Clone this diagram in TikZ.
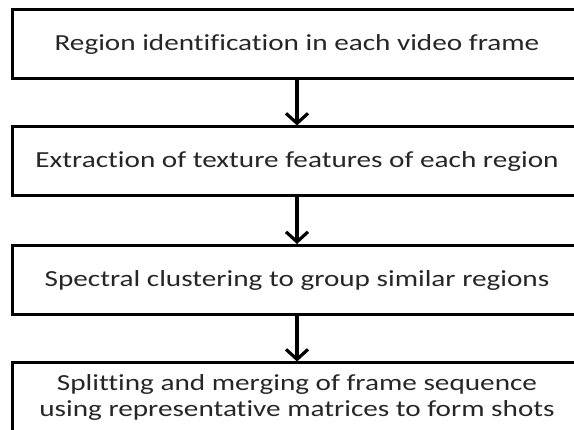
\documentclass[tikz,border=0pt]{standalone}
\usepackage{fontspec}
\setmainfont{Carlito}[Ligatures={NoCommon}]
\usetikzlibrary{arrows.meta}
\newcommand{\widetext}[1]{\scalebox{1.27}[1]{#1}}
\tikzset{
  stage/.style={draw, line width=3pt, minimum width=570pt, minimum height=69pt,
    align=center, inner sep=0pt, font=\fontsize{23}{26}\selectfont, text=black!85},
  flow/.style={line width=3.2pt, -{Straight Barb[length=10pt,width=22pt,line width=3.2pt]}}
}
\begin{document}
\begin{tikzpicture}[x=1pt, y=-1pt]
  \useasboundingbox (0, 0) rectangle (574, 430);
  \clip (0, 0) rectangle (574, 430);
  \node[stage] (s1) at (297, 44.5) {\widetext{Region identification in each video frame}};
  \node[stage] (s2) at (297, 161.5) {\widetext{Extraction of texture features of each region}};
  \node[stage] (s3) at (297, 280) {\widetext{Spectral clustering to group similar regions}};
  \node[stage] (s4) at (297, 397.5) {\widetext{Splitting and merging of frame sequence}\\\widetext{using representative matrices to form shots}};
  \draw[flow] (s1) -- (s2);
  \draw[flow] (s2) -- (s3);
  \draw[flow] (s3) -- (s4);
\end{tikzpicture}
\end{document}
